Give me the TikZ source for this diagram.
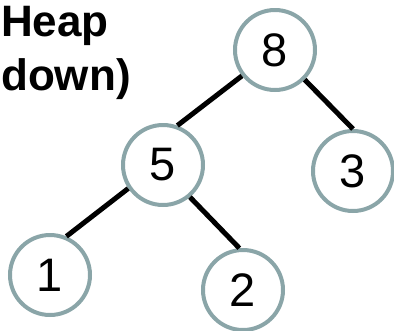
\documentclass[tikz,border=0pt]{standalone}
\usepackage{fontspec}
\setmainfont{Liberation Sans}
\usepackage{tikz}
\definecolor{ringgray}{RGB}{138,165,168}

\begin{document}
\begin{tikzpicture}[x=1pt, y=-1pt]
	\tikzstyle{heapnode} = [circle, draw=ringgray, line width=4pt, fill=white, minimum size=80pt, inner sep=0pt, font=\fontsize{47}{47}\selectfont]
	\tikzstyle{title} = [inner sep=0pt, font=\fontsize{44}{44}\selectfont\bfseries]
	\useasboundingbox (0,0) rectangle (394,330);
	\node[title, anchor=base west] (t1) at (1,36) {Heap};
	\node[title, anchor=base west] (t2) at (1,90) {down)};
	\node[heapnode] (n8) at (275,50) {8};
	\node[heapnode] (n5) at (163,165) {5};
	\node[heapnode] (n3) at (353,171) {3};
	\node[heapnode] (n1) at (50,275) {1};
	\node[heapnode] (n2) at (243,290) {2};
	\draw [line width=5pt] (n8.218)--(n5.70);
	\draw [line width=5pt] (n8.315)--(n3.90);
	\draw [line width=5pt] (n5.214)--(n1.67);
	\draw [line width=5pt] (n5.310)--(n2.95);
\end{tikzpicture}
\end{document}
